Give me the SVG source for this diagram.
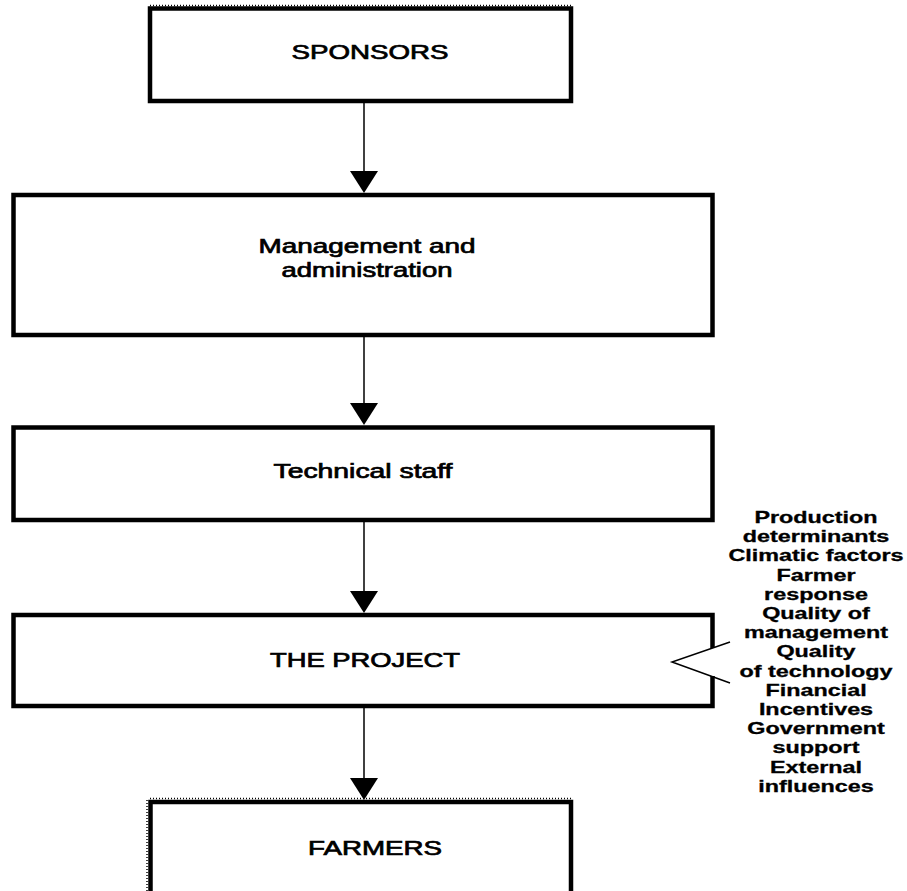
<svg xmlns="http://www.w3.org/2000/svg" width="907" height="891" viewBox="0 0 907 891">
<style>
.box{fill:none;stroke:#000;stroke-width:4.5;stroke-linejoin:miter}
.dots{fill:none;stroke:#000;stroke-width:1.5;stroke-dasharray:1 2}
.lbl{font-family:"Liberation Sans",Arial,sans-serif;font-size:20px;fill:#000;stroke:#000;stroke-width:0.7;text-anchor:middle}
.side{font-family:"Liberation Sans",Arial,sans-serif;font-size:16px;font-weight:bold;fill:#000;stroke:#000;stroke-width:0.3;text-anchor:middle}
.ln{stroke:#000;stroke-width:1.5;fill:none}
</style>
<defs>
<path id="ah" d="M0,0 L-14,-22 L14,-22 Z" fill="#000"/>
</defs>
<rect width="907" height="891" fill="#fff"/>

<g id="sponsors">
<line class="dots" x1="150" y1="5.5" x2="571" y2="5.5"/>
<rect class="box" x="150" y="8.5" width="421" height="92.5"/>
<text class="lbl" x="370" y="59" textLength="157" lengthAdjust="spacingAndGlyphs">SPONSORS</text>
</g>

<g id="management">
<rect class="box" x="13.5" y="195" width="699" height="140"/>
<text class="lbl" x="367" y="253" textLength="217" lengthAdjust="spacingAndGlyphs">Management and</text>
<text class="lbl" x="367" y="277" textLength="171" lengthAdjust="spacingAndGlyphs">administration</text>
</g>

<g id="technical">
<rect class="box" x="13.5" y="427.5" width="699" height="92.5"/>
<text class="lbl" x="363" y="478" textLength="179" lengthAdjust="spacingAndGlyphs">Technical staff</text>
</g>

<g id="project">
<path class="box" d="M712.5,648 V615 H13.5 V706 H712.5 V676"/>
<text class="lbl" x="365" y="667" textLength="190" lengthAdjust="spacingAndGlyphs">THE PROJECT</text>
</g>

<g id="farmers">
<line class="dots" x1="150" y1="798.5" x2="571" y2="798.5"/>
<line class="dots" x1="147" y1="800" x2="147" y2="891"/>
<path class="box" d="M150.5,891 V802 H571 V891"/>
<text class="lbl" x="375" y="855" textLength="134" lengthAdjust="spacingAndGlyphs">FARMERS</text>
</g>

<g id="factors">
<polyline class="ln" points="730,642 672,662 730,683" stroke-width="2"/>
<g transform="translate(816,0) scale(1.46,1)">
<text class="side" x="0" y="523">Production</text>
<text class="side" x="0" y="542">determinants</text>
<text class="side" x="0" y="561">Climatic factors</text>
<text class="side" x="0" y="581">Farmer</text>
<text class="side" x="0" y="600">response</text>
<text class="side" x="0" y="619">Quality of</text>
<text class="side" x="0" y="638">management</text>
<text class="side" x="0" y="657">Quality</text>
<text class="side" x="0" y="677">of technology</text>
<text class="side" x="0" y="696">Financial</text>
<text class="side" x="0" y="715">Incentives</text>
<text class="side" x="0" y="734">Government</text>
<text class="side" x="0" y="753">support</text>
<text class="side" x="0" y="773">External</text>
<text class="side" x="0" y="792">influences</text>
</g>
</g>

<g id="connectors">
<line class="ln" x1="364" y1="101" x2="364" y2="175"/>
<use href="#ah" x="364" y="193"/>
<line class="ln" x1="364" y1="335" x2="364" y2="408" stroke-width="3"/>
<use href="#ah" x="364" y="425"/>
<line class="ln" x1="364" y1="520" x2="364" y2="595"/>
<use href="#ah" x="364" y="613"/>
<line class="ln" x1="364" y1="706" x2="364" y2="782"/>
<use href="#ah" x="364" y="800"/>
</g>
</svg>
